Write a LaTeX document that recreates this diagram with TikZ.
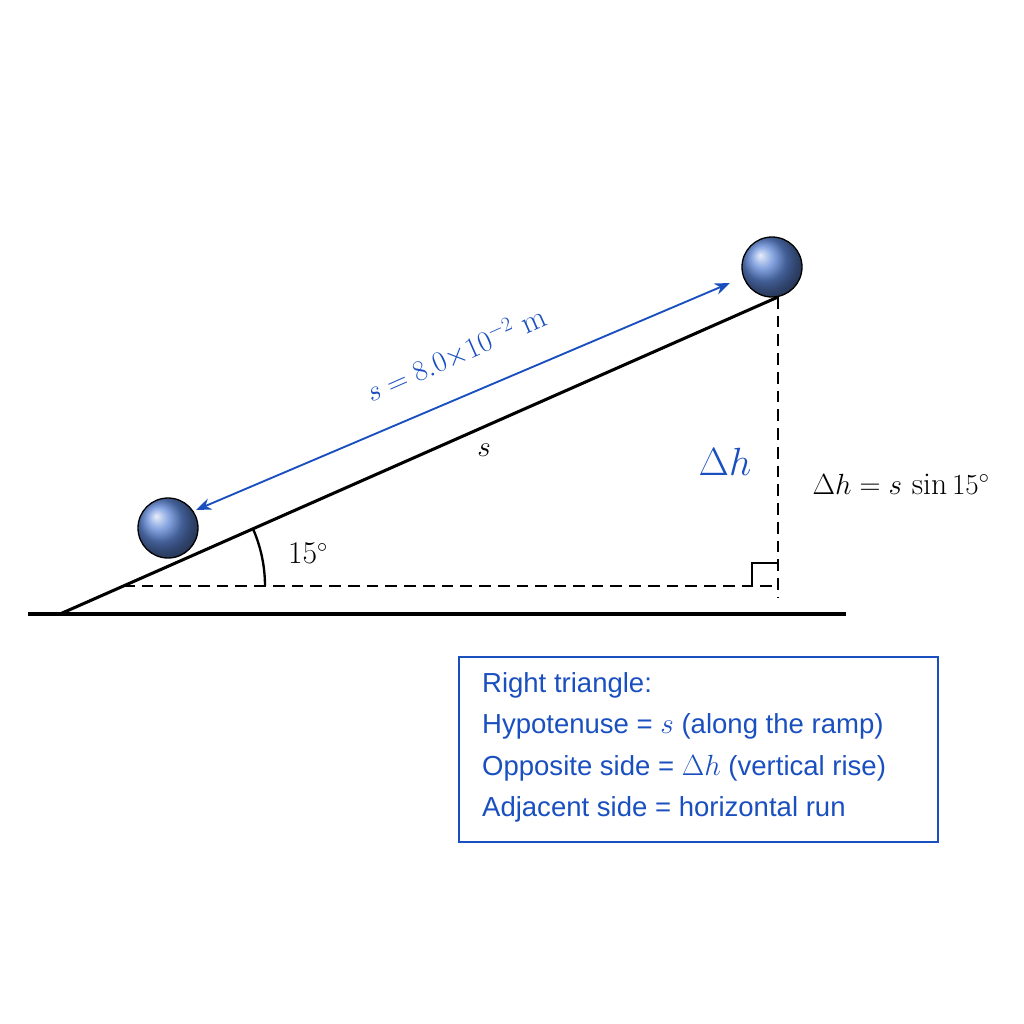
\documentclass[tikz,border=0pt]{standalone}
\usepackage{fontspec}
\newfontfamily\boxfont{Liberation Sans}
\usetikzlibrary{arrows.meta}
\definecolor{myblue}{HTML}{1A4FC0}
\definecolor{ballc}{RGB}{95,135,215}
\begin{document}
\begin{tikzpicture}[x=0.03cm,y=-0.03cm,
  ln/.style={line width=2.6pt},
  dsh/.style={line width=2.2pt,dash pattern=on 10pt off 6pt},
  ball/.style={circle,draw=black,line width=1.1pt,minimum size=1.8cm,inner sep=0pt,
     shading=ball,ball color=ballc},
  lbl/.style={font=\fontsize{27}{30}\selectfont}]
\useasboundingbox (0,0) rectangle (1024,1024);
\coordinate (g1) at (28,614); \coordinate (g2) at (846,614);
\coordinate (A) at (60,614); \coordinate (B) at (778,297);
\coordinate (H) at (123,586); \coordinate (C) at (778,586);
\coordinate (Cb) at (778,598);
\draw[ln] (g1) -- (g2);
\draw[ln] (A) -- (B);
\draw[dsh] (H) -- (C);
\draw[dsh] (B) -- (Cb);
\draw[line width=2pt] (752,586) -- (752,563) -- (778,563);
\draw[line width=2pt] (265,586) arc[start angle=0,end angle=-23.8,radius=142];
\node[lbl] (ang) at (308,553) {15$^\circ$};
\node[ball] (b1) at (772,267) {};
\node[ball] (b2) at (168,528) {};
\coordinate (p1) at (730,283); \coordinate (p2) at (196,510);
\draw[myblue,line width=1.6pt,{Stealth[length=13pt,width=10pt]}-{Stealth[length=13pt,width=10pt]}] (p2) -- (p1);
\node[lbl,text=myblue,rotate=23.8] (sl) at (456,354) {$s = 8.0{\times}10^{-2}$ m};
\node[lbl] (s) at (484,450) {$s$};
\node[text=myblue,lbl,scale=1.35] (dh) at (725,462) {$\Delta h$};
\node[lbl] (eq) at (901,484) {$\Delta h = s\,\sin 15^\circ$};
\node[draw=myblue,line width=1.5pt,minimum width=479*0.03cm,minimum height=185*0.03cm,anchor=north west] (box) at (458,656) {};
\begin{scope}[every node/.style={anchor=west,text=myblue,font=\boxfont\fontsize{23.5}{26}\selectfont}]
\node (t1) at (478,685) {Right triangle:};
\node (t2) at (478,726) {Hypotenuse = \fontsize{27}{26}\selectfont$s$\fontsize{23.5}{26}\selectfont\ (along the ramp)};
\node (t3) at (478,768) {Opposite side = \fontsize{27}{26}\selectfont$\Delta h$\fontsize{23.5}{26}\selectfont\ (vertical rise)};
\node (t4) at (478,809) {Adjacent side = horizontal run};
\end{scope}
\end{tikzpicture}
\end{document}
